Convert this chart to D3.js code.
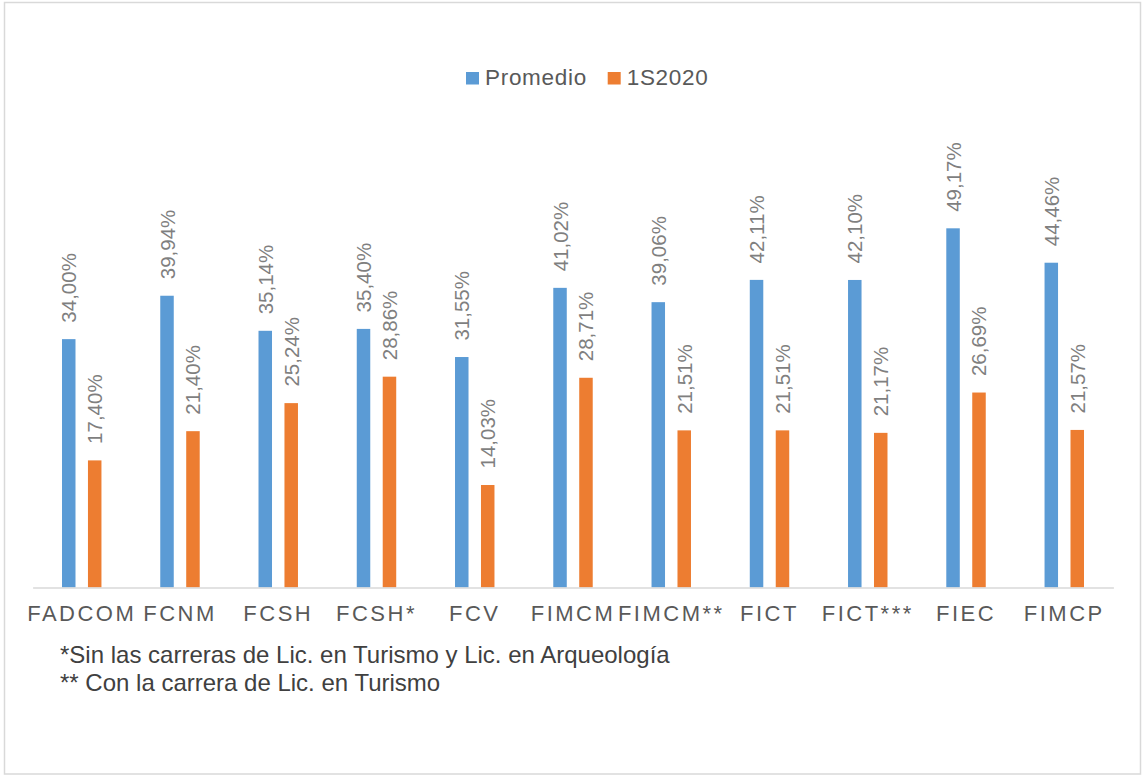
<!DOCTYPE html>
<html>
<head>
<meta charset="utf-8">
<script src="https://cdn.jsdelivr.net/npm/d3@7"></script>
<style>
  body { margin: 0; background: #fff; }
  svg { display: block; font-family: "Liberation Sans", Arial, sans-serif; }
</style>
</head>
<body>
<svg id="chart"></svg>
<script>
const categories = ['FADCOM', 'FCNM', 'FCSH', 'FCSH*', 'FCV', 'FIMCM', 'FIMCM**', 'FICT', 'FICT***', 'FIEC', 'FIMCP'];
const promedio = [34.00, 39.94, 35.14, 35.40, 31.55, 41.02, 39.06, 42.11, 42.10, 49.17, 44.46];
const s2020 = [17.40, 21.40, 25.24, 28.86, 14.03, 28.71, 21.51, 21.51, 21.17, 26.69, 21.57];
const seriesNames = ['Promedio', '1S2020'];
const colors = ['#5B9BD5', '#ED7D31'];
const footnotes = [
	'*Sin las carreras de Lic. en Turismo y Lic. en Arqueología',
	'** Con la carrera de Lic. en Turismo',
];

const width = 1142;
const height = 776;

const svg = d3.select('#chart').attr('width', width).attr('height', height);

// outer frame
svg.append('rect')
	.attr('x', 4.5).attr('y', 2.5)
	.attr('width', 1136).attr('height', 771.5)
	.attr('fill', 'none')
	.attr('stroke', '#d9d9d9')
	.attr('stroke-width', 1.5);

const data = categories.map((c, i) => ({ cat: c, values: [promedio[i], s2020[i]] }));

const x = d3.scaleBand().domain(categories).range([32.6, 1113.4]).paddingInner(0).paddingOuter(0);
const x1 = d3.scaleBand().domain(seriesNames).range([29.4, x.bandwidth() - 29.4]).paddingInner(0.48);
const y = d3.scaleLinear().domain([0, 60]).range([587.5, 149.2]);

const fmt = d3.formatLocale({ decimal: ',', thousands: '.', grouping: [3], currency: ['', ''] }).format('.2f');

const groups = svg.selectAll('.grp')
	.data(data)
	.join('g')
	.attr('class', 'grp')
	.attr('transform', (d) => `translate(${x(d.cat)},0)`);

groups.selectAll('rect')
	.data((d) => d.values.map((v, i) => ({ v, s: seriesNames[i], i })))
	.join('rect')
	.attr('x', (d) => x1(d.s))
	.attr('width', x1.bandwidth())
	.attr('y', (d) => y(d.v))
	.attr('height', (d) => y(0) - y(d.v))
	.attr('fill', (d) => colors[d.i]);

groups.selectAll('text.lbl')
	.data((d) => d.values.map((v, i) => ({ v, s: seriesNames[i], i })))
	.join('text')
	.attr('class', 'lbl')
	.attr('transform', (d) => `translate(${x1(d.s) + x1.bandwidth() / 2 + 7.5},${y(d.v) - 16.5}) rotate(-90)`)
	.attr('font-size', 20.5)
	.attr('fill', '#7f7f7f')
	.text((d) => fmt(d.v) + '%');

// x axis
const xAxis = svg.append('g')
	.attr('transform', `translate(0,${y(0)})`)
	.call(d3.axisBottom(x).tickSize(0).tickPadding(0));
xAxis.select('.domain').attr('stroke', '#d9d9d9').attr('stroke-width', 1.5);
xAxis.selectAll('.tick text')
	.attr('y', 33)
	.attr('dy', 0)
	.attr('font-size', 22)
	.attr('font-family', '"Liberation Sans", Arial, sans-serif')
	.attr('letter-spacing', 2.5)
	.attr('fill', '#595959');

// legend
const legend = svg.append('g').attr('transform', 'translate(466,72)');
const legX = [0, 141.7];
seriesNames.forEach((s, i) => {
	const g = legend.append('g').attr('transform', `translate(${legX[i]},0)`);
	g.append('rect').attr('width', 13).attr('height', 12.5).attr('fill', colors[i]);
	g.append('text')
		.attr('x', 19).attr('y', 12.5)
		.attr('font-size', 22.5)
		.attr('letter-spacing', 0.7)
		.attr('fill', '#595959')
		.text(s);
});

// footnotes
svg.selectAll('.note')
	.data(footnotes)
	.join('text')
	.attr('class', 'note')
	.attr('x', 60)
	.attr('y', (d, i) => 662.7 + i * 28.3)
	.attr('font-size', 24)
	.attr('fill', '#404040')
	.text((d) => d);
</script>
</body>
</html>
